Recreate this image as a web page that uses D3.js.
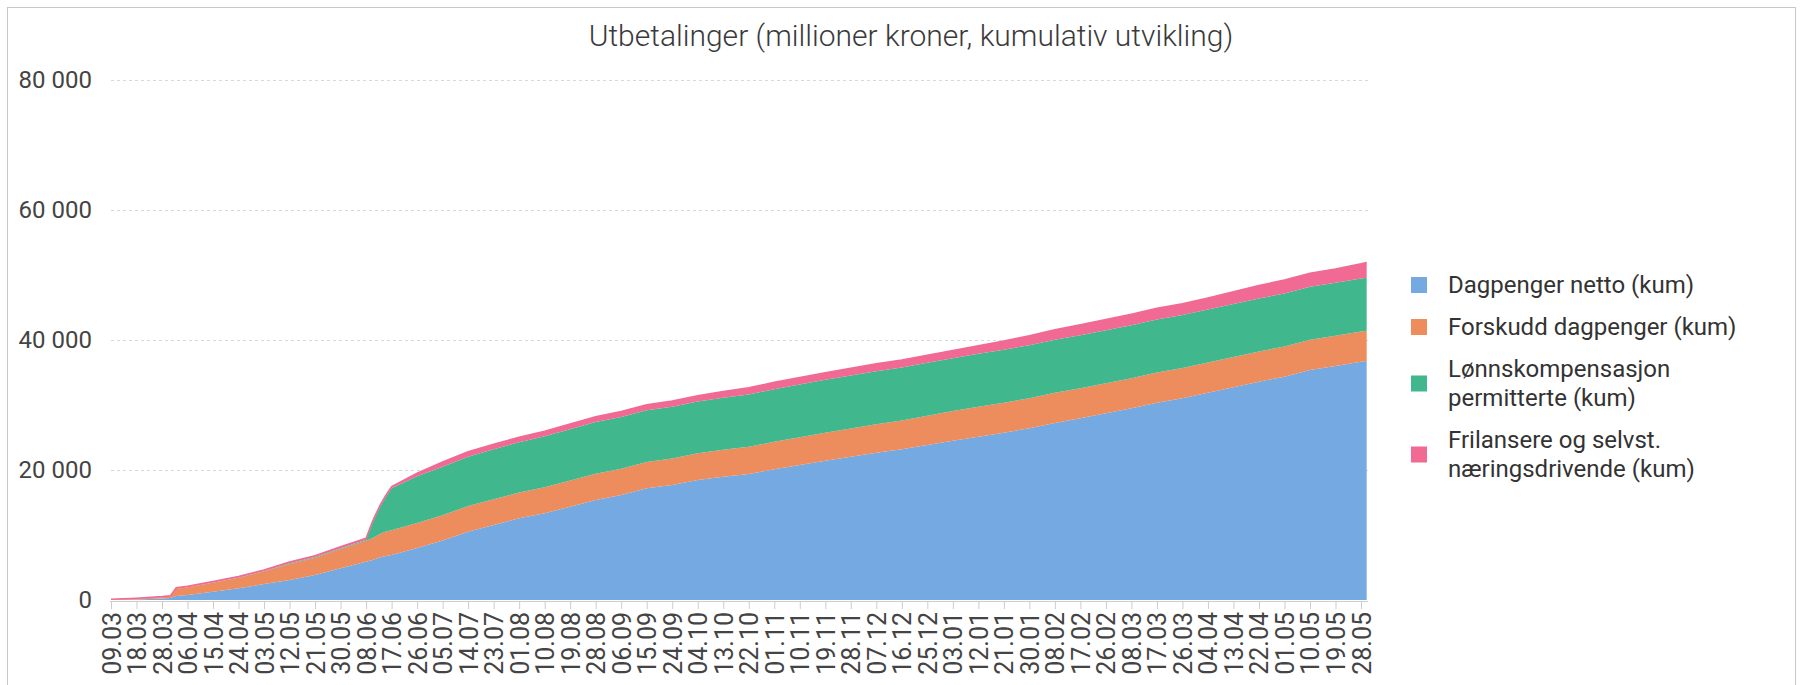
<!DOCTYPE html>
<html>
<head>
<meta charset="utf-8">
<script src="https://cdnjs.cloudflare.com/ajax/libs/d3/7.8.5/d3.min.js"></script>
<style>
	body { margin: 0; background: #fff; }
	text { font-family: Roboto, "Liberation Sans", sans-serif; }
</style>
</head>
<body>
<div id="chart"></div>
<script>
// dates the values were read at (dd.mm.yyyy)
let dates = ["09.03.2020","18.03.2020","28.03.2020","31.03.2020","02.04.2020","06.04.2020","15.04.2020","24.04.2020","03.05.2020","12.05.2020",
	"21.05.2020","30.05.2020","08.06.2020","10.06.2020","11.06.2020","13.06.2020","15.06.2020","17.06.2020","26.06.2020","05.07.2020",
	"14.07.2020","23.07.2020","01.08.2020","10.08.2020","19.08.2020","28.08.2020","06.09.2020","15.09.2020","24.09.2020","04.10.2020",
	"13.10.2020","22.10.2020","01.11.2020","10.11.2020","19.11.2020","28.11.2020","07.12.2020","16.12.2020","25.12.2020","03.01.2021",
	"12.01.2021","21.01.2021","30.01.2021","08.02.2021","17.02.2021","26.02.2021","08.03.2021","17.03.2021","26.03.2021","04.04.2021",
	"13.04.2021","22.04.2021","01.05.2021","10.05.2021","19.05.2021","28.05.2021","30.05.2021"];

// cumulative payouts, million NOK
let dagpenger = [20,60,250,300,600,770,1280,1790,2460,3080,
	3850,4870,5900,6100,6260,6560,6770,6920,8000,9150,
	10510,11540,12560,13330,14360,15380,16150,17180,17690,18460,
	18970,19380,20100,20770,21440,22050,22670,23180,23850,24510,
	25130,25740,26410,27230,27950,28720,29490,30360,31030,31900,
	32720,33590,34360,35380,36000,36670,36770];
let forskudd = [40,140,170,250,1150,1180,1390,1650,1950,2460,
	2660,2980,3230,3350,3450,3650,3750,3800,3850,3900,
	3950,3950,3960,4000,4020,4040,4060,4070,4090,4100,
	4150,4200,4230,4260,4290,4330,4380,4450,4500,4550,
	4600,4620,4640,4640,4640,4640,4640,4650,4650,4650,
	4650,4650,4650,4650,4650,4650,4650];
let lonnskomp = [0,0,0,0,0,30,30,30,50,110,
	110,130,150,2100,2860,4160,5380,6460,7200,7450,
	7590,7700,7750,7850,7900,7950,7950,7960,7970,7980,
	8000,8050,8100,8120,8140,8150,8150,8150,8150,8150,
	8150,8150,8150,8150,8150,8150,8150,8150,8150,8150,
	8150,8150,8150,8150,8150,8150,8150];
let frilans = [60,80,100,110,130,150,150,150,160,200,
	210,220,230,250,250,250,250,260,450,730,
	760,780,790,800,810,820,830,840,850,880,
	950,1020,1060,1090,1100,1110,1130,1140,1150,1180,
	1230,1340,1440,1550,1620,1650,1700,1720,1750,1780,
	1900,2000,2060,2100,2130,2260,2370];

let seriesNames = ["Dagpenger netto (kum)", "Forskudd dagpenger (kum)", "Lønnskompensasjon permitterte (kum)", "Frilansere og selvst. næringsdrivende (kum)"];
let colors = ["#75a9e1", "#ed8c5c", "#40b78d", "#f06a93"];

// x axis shows every 9th category
let tickDates = ["09.03.2020","18.03.2020","28.03.2020","06.04.2020","15.04.2020","24.04.2020","03.05.2020","12.05.2020","21.05.2020","30.05.2020",
	"08.06.2020","17.06.2020","26.06.2020","05.07.2020","14.07.2020","23.07.2020","01.08.2020","10.08.2020","19.08.2020","28.08.2020",
	"06.09.2020","15.09.2020","24.09.2020","04.10.2020","13.10.2020","22.10.2020","01.11.2020","10.11.2020","19.11.2020","28.11.2020",
	"07.12.2020","16.12.2020","25.12.2020","03.01.2021","12.01.2021","21.01.2021","30.01.2021","08.02.2021","17.02.2021","26.02.2021",
	"08.03.2021","17.03.2021","26.03.2021","04.04.2021","13.04.2021","22.04.2021","01.05.2021","10.05.2021","19.05.2021","28.05.2021"];
let yTicks = [0, 20000, 40000, 60000, 80000];

let title = "Utbetalinger (millioner kroner, kumulativ utvikling)";

graph("#chart");

function graph(id) {
	let width = 1802, height = 685;
	let left = 111, lastTick = 1361, top = 80, bottom = 600;

	let parse = d3.timeParse("%d.%m.%Y");
	let keys = ["dagpenger", "forskudd", "lonnskomp", "frilans"];

	let rows = dates.map((d, i) => ({
		date: parse(d),
		dagpenger: dagpenger[i],
		forskudd: forskudd[i],
		lonnskomp: lonnskomp[i],
		frilans: frilans[i]
	}));

	let ticks = tickDates.map(parse);
	let step = (lastTick - left) / (ticks.length - 1);

	// categorical axis: each labelled date gets an even slot
	let x = d3.scaleTime()
		.domain(ticks)
		.range(ticks.map((d, i) => left + i * step));

	let y = d3.scaleLinear()
		.domain([0, 80000])
		.range([bottom, top]);

	let nb = d3.formatLocale({ decimal: ",", thousands: "\u00a0", grouping: [3], currency: ["", " kr"] });
	let fmt = nb.format(",");

	let svg = d3.select(id).append("svg")
		.attr("width", width)
		.attr("height", height);

	// frame
	svg.append("rect")
		.attr("x", 7.5).attr("y", 7.5)
		.attr("width", 1788).attr("height", 720)
		.attr("fill", "none")
		.attr("stroke", "#c8c8c8");

	svg.append("text")
		.attr("x", 911).attr("y", 46)
		.attr("text-anchor", "middle")
		.style("font-size", "30px")
		.style("font-weight", 300)
		.style("fill", "#3a3a3a")
		.text(title);

	// grid
	svg.append("g").selectAll("line")
		.data(yTicks.filter(v => v > 0))
		.enter().append("line")
		.attr("x1", left).attr("x2", 1370)
		.attr("y1", d => Math.round(y(d)) + 0.5)
		.attr("y2", d => Math.round(y(d)) + 0.5)
		.attr("stroke", "#d8d8d8")
		.attr("stroke-dasharray", "3,3");

	let stack = d3.stack().keys(keys)(rows);

	let area = d3.area()
		.x(d => x(d.data.date))
		.y0(d => y(d[0]))
		.y1(d => y(d[1]));

	svg.append("g").selectAll("path")
		.data(stack)
		.enter().append("path")
		.attr("d", area)
		.attr("fill", (d, i) => colors[i]);

	// thin edge along the top of the last series
	svg.append("path")
		.datum(stack[stack.length - 1])
		.attr("d", d3.line().x(d => x(d.data.date)).y(d => y(d[1])))
		.attr("fill", "none")
		.attr("stroke", colors[3])
		.attr("stroke-width", 1.5);

	// x axis
	let xAxis = svg.append("g")
		.attr("transform", `translate(0,${bottom + 1})`)
		.call(d3.axisBottom(x).tickValues(ticks).tickFormat(d3.timeFormat("%d.%m")).tickSize(8).tickSizeOuter(0));
	xAxis.select(".domain").attr("stroke", "#ccc").attr("d", `M${left - 1},0.5H1368`);
	xAxis.selectAll(".tick line").attr("stroke", "#ccc");
	xAxis.selectAll(".tick text")
		.attr("transform", "rotate(-90)")
		.attr("x", -11).attr("y", 0).attr("dy", "0.36em")
		.style("text-anchor", "end")
		.style("font-size", "25px")
		.style("fill", "#444");

	// y axis
	let yAxis = svg.append("g")
		.attr("transform", `translate(${left},0)`)
		.call(d3.axisLeft(y).tickValues(yTicks).tickFormat(fmt).tickSize(0).tickPadding(19));
	yAxis.select(".domain").remove();
	yAxis.selectAll("text")
		.style("font-size", "24px")
		.style("fill", "#444");

	// legend
	let legend = svg.append("g").attr("transform", "translate(1411,0)");
	let lineH = 29, cy = 285;
	seriesNames.forEach((name, i) => {
		let g = legend.append("g");
		let t = g.append("text")
			.style("font-size", "24px")
			.style("fill", "#333");
		let lines = wrap(t, name, 320);
		lines.forEach((l, j) => {
			t.append("tspan").attr("x", 37).attr("y", cy + j * lineH).attr("dy", "0.35em").text(l);
		});
		let mid = cy + (lines.length - 1) * lineH / 2;
		g.append("rect")
			.attr("x", 0).attr("y", mid - 8)
			.attr("width", 16).attr("height", 16)
			.attr("fill", colors[i]);
		cy += (lines.length - 1) * lineH + 42;
	});
}

// split a label in lines no wider than max
function wrap(textSel, str, max) {
	let words = str.split(" ");
	let lines = [], cur = "";
	let probe = textSel.append("tspan");
	words.forEach(w => {
		let test = cur ? cur + " " + w : w;
		probe.text(test);
		if (probe.node().getComputedTextLength() > max && cur) {
			lines.push(cur);
			cur = w;
		} else {
			cur = test;
		}
	});
	lines.push(cur);
	probe.remove();
	return lines;
}
</script>
</body>
</html>
